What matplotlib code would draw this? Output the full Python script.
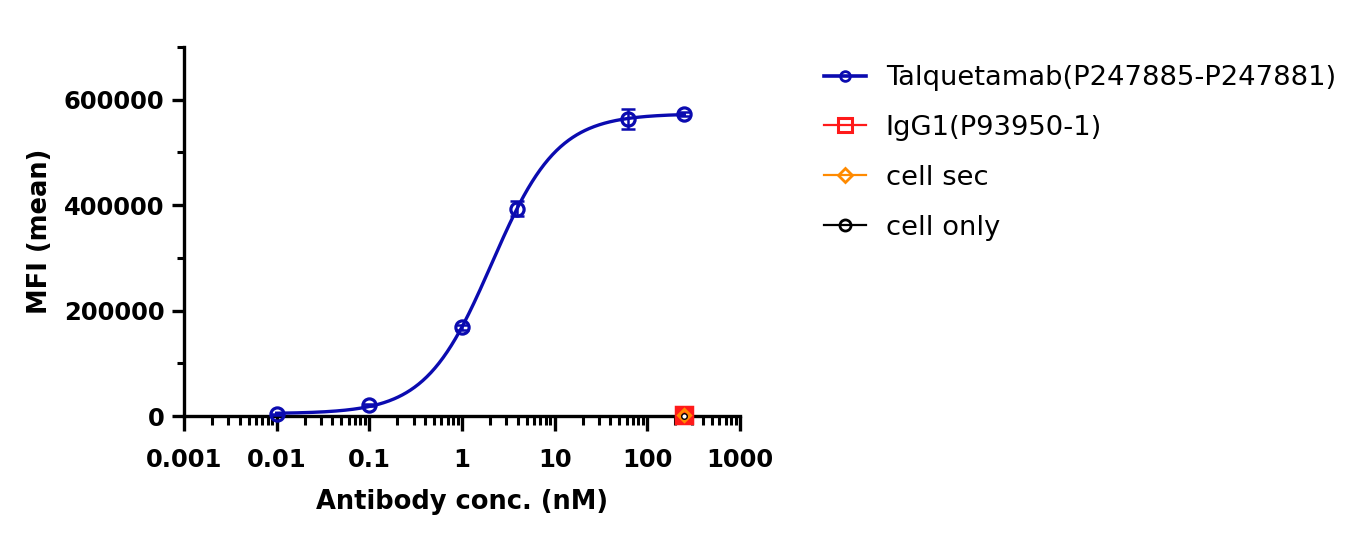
import numpy as np
import matplotlib
matplotlib.use("Agg")
import matplotlib.pyplot as plt
from matplotlib.ticker import FixedLocator, NullFormatter, FixedFormatter

# ---- data ----
conc_talq = [0.01, 0.1, 1.0, 3.9, 62.5, 250.0]
mfi_talq = [3000, 21000, 168000, 393000, 563000, 573000]
err_talq = [1500, 2500, 4000, 14000, 19000, 4000]

conc_igg1 = [250.0]
mfi_igg1 = [1500]
conc_sec = [250.0]
mfi_sec = [1000]
conc_only = [250.0]
mfi_only = [800]

series_labels = ["Talquetamab(P247885-P247881)", "IgG1(P93950-1)", "cell sec", "cell only"]
x_tick_values = [0.001, 0.01, 0.1, 1, 10, 100, 1000]
x_tick_labels = ["0.001", "0.01", "0.1", "1", "10", "100", "1000"]
y_tick_values = [0, 200000, 400000, 600000]
y_tick_labels = ["0", "200000", "400000", "600000"]

BLUE = "#0b0bb0"
RED = "#ff1a1a"
ORANGE = "#ff8a00"
BLACK = "#000000"

# ---- 4PL fit to the Talquetamab points (grid search, linear bottom/top) ----
lx = np.log10(np.array(conc_talq))
yy = np.array(mfi_talq, dtype=float)
best = None
for logec in np.linspace(-1, 1.5, 251):
    for hill in np.linspace(0.5, 2.5, 201):
        f = 1.0 / (1.0 + 10 ** ((logec - lx) * hill))
        A = np.vstack([1 - f, f]).T
        coef, *_ = np.linalg.lstsq(A, yy, rcond=None)
        r = np.sum((A @ coef - yy) ** 2)
        if best is None or r < best[0]:
            best = (r, logec, hill, coef)
_, logec, hill, (bottom, top) = best
xc = np.logspace(np.log10(min(conc_talq)), np.log10(max(conc_talq)), 400)
yc = bottom + (top - bottom) / (1.0 + 10 ** ((logec - np.log10(xc)) * hill))

# ---- figure ----
fig = plt.figure(figsize=(13.57, 5.40), dpi=100)
ax = fig.add_axes([0.1356, 0.2296, 0.4097, 0.6834])

ax.plot(xc, yc, color=BLUE, lw=2.4, zorder=3, clip_on=False)
ax.errorbar(conc_talq, mfi_talq, yerr=err_talq, fmt="none", ecolor=BLUE,
            elinewidth=1.8, capsize=5, capthick=1.8, zorder=4, clip_on=False)
ax.plot(conc_talq, mfi_talq, ls="none", marker="o", ms=9.5, mfc="none",
        mec=BLUE, mew=2.3, zorder=5, clip_on=False)

ax.plot(conc_igg1, mfi_igg1, ls="none", marker="s", ms=11.5, mfc=RED, mec=RED,
        mew=2.5, zorder=6, clip_on=False)
ax.plot(conc_sec, mfi_sec, ls="none", marker="D", ms=6, mfc="none", mec=ORANGE,
        mew=2.2, zorder=7, clip_on=False)
ax.plot(conc_only, mfi_only, ls="none", marker="o", ms=4, mfc="white", mec=BLACK,
        mew=1.0, zorder=8, clip_on=False)

# legend handles
h1, = ax.plot([], [], color=BLUE, lw=2.6, marker="o", ms=7, mfc="none", mew=2)
h2, = ax.plot([], [], color=RED, lw=1.6, marker="s", ms=10, mfc="none", mew=2.2)
h3, = ax.plot([], [], color=ORANGE, lw=1.6, marker="D", ms=7.5, mfc="none", mew=2)
h4, = ax.plot([], [], color=BLACK, lw=1.6, marker="o", ms=8, mfc="none", mew=2)
leg = fig.legend([h1, h2, h3, h4], series_labels, loc="upper left",
                 bbox_to_anchor=(0.589, 0.925), frameon=False, fontsize=19.7,
                 handlelength=1.53, handletextpad=0.73, labelspacing=0.87)

ax.set_xscale("log")
ax.set_xlim(0.001, 1000)
ax.set_ylim(0, 700000)

for s in ["top", "right"]:
    ax.spines[s].set_visible(False)
for s in ["left", "bottom"]:
    ax.spines[s].set_linewidth(2.4)
ax.spines["left"].set_bounds(0, 700000)

ax.xaxis.set_major_locator(FixedLocator(x_tick_values))
ax.xaxis.set_major_formatter(FixedFormatter(x_tick_labels))
minor_x = [m * 10.0 ** e for e in range(-3, 3) for m in range(2, 10)]
ax.xaxis.set_minor_locator(FixedLocator(minor_x))
ax.xaxis.set_minor_formatter(NullFormatter())

ax.yaxis.set_major_locator(FixedLocator(y_tick_values))
ax.yaxis.set_major_formatter(FixedFormatter(y_tick_labels))
ax.yaxis.set_minor_locator(FixedLocator([100000, 300000, 500000, 700000]))

ax.tick_params(axis="both", which="major", width=2.4, direction="out")
ax.tick_params(axis="both", which="minor", width=2.2, direction="out")
ax.tick_params(axis="x", which="major", length=11, pad=12)
ax.tick_params(axis="x", which="minor", length=6.5)
ax.tick_params(axis="y", which="major", length=9, pad=5)
ax.tick_params(axis="y", which="minor", length=5)

for lab in ax.get_xticklabels() + ax.get_yticklabels():
    lab.set_fontsize(17.5)
    lab.set_fontweight("bold")

ax.set_xlabel("Antibody conc. (nM)", fontsize=18.5, fontweight="bold", labelpad=12)
ax.set_ylabel("MFI (mean)", fontsize=18.5, fontweight="bold", labelpad=8)

fig.savefig("out.png", dpi=100)
